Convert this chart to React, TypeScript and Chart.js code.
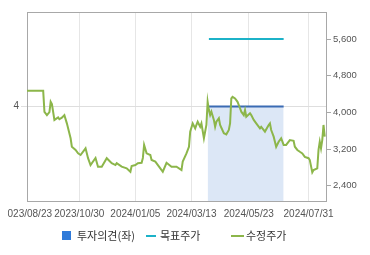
import React, { useEffect, useRef } from "react";
import { Chart, registerables } from "chart.js";

Chart.register(...registerables);

// x values are trading-day indices counted from 2023/08/23
const tickDays = [0, 42, 87, 132, 178, 226];
const tickLabels = ["2023/08/23", "2023/10/30", "2024/01/05", "2024/03/13", "2024/05/23", "2024/07/31"];

const priceDays = [
  0, 13, 14, 16, 18, 19, 20, 22, 25, 26, 28, 30, 32, 35, 36, 39, 41, 43, 47, 49,
  51, 55, 57, 60, 64, 68, 71, 72, 76, 80, 83, 84, 87, 89, 92, 93, 94, 96, 99, 100,
  103, 107, 109, 112, 116, 120, 124, 125, 128, 130, 131, 133, 135, 136, 137, 139, 140, 142, 144, 145,
  146, 147, 148, 150, 151, 152, 154, 155, 158, 160, 162, 163, 164, 165, 167, 169, 171, 172, 174, 175,
  176, 179, 180, 182, 184, 187, 188, 191, 194, 195, 196, 198, 199, 200, 202, 204, 206, 208, 211, 214,
  215, 217, 219, 221, 223, 226, 227, 229, 230, 233, 234, 235, 236, 237, 238, 239,
];
const priceValues = [
  4470, 4470, 4010, 3940, 4005, 4230, 4180, 3835, 3890, 3850, 3885, 3940, 3760, 3435, 3250, 3180, 3105, 3070, 3215, 3000,
  2850, 3005, 2815, 2815, 3000, 2890, 2850, 2890, 2815, 2780, 2705, 2830, 2850, 2890, 2900, 3005, 3290, 3105, 3070, 2960,
  2925, 2780, 2705, 2900, 2815, 2815, 2740, 2925, 3105, 3250, 3580, 3760, 3650, 3725, 3795, 3685, 3760, 3435, 3725, 4230,
  4050, 3940, 4015, 3835, 3685, 3795, 3870, 3725, 3545, 3520, 3615, 3760, 4305, 4340, 4305, 4230, 4090, 4015, 3940, 4050,
  3905, 3980, 3940, 3835, 3760, 3650, 3685, 3580, 3725, 3760, 3615, 3470, 3360, 3250, 3360, 3435, 3290, 3290, 3395, 3380,
  3250, 3180, 3140, 3105, 3030, 3000, 2960, 2690, 2740, 2780, 3180, 3360, 3215, 3395, 3725, 3470,
];

const opinionDays = [145, 206];
const opinionValues = [4, 4];
const targetDays = [146, 206];
const targetValues = [5600, 5600];

const rightTicks = [2400, 3200, 4000, 4800, 5600];
const leftTicks = [4];
const legendLabels = ["투자의견(좌)", "목표주가", "수정주가"];

const toPoints = (xs: number[], ys: number[]) => xs.map((x, i) => ({ x, y: ys[i] }));

const frameTop = {
  id: "frameTop",
  beforeDatasetsDraw(chart: any) {
    const { ctx, chartArea } = chart;
    ctx.save();
    ctx.strokeStyle = "#a8a8a8";
    ctx.lineWidth = 1;
    ctx.beginPath();
    ctx.moveTo(chartArea.left, chartArea.top + 0.5);
    ctx.lineTo(chartArea.right, chartArea.top + 0.5);
    ctx.stroke();
    ctx.restore();
  },
};

export default function App() {
  const ref = useRef<HTMLCanvasElement | null>(null);

  useEffect(() => {
    if (!ref.current) return;
    const tickFont = { family: "'Liberation Sans', Arial, sans-serif", size: 10 };
    const chart = new Chart(ref.current, {
      type: "line",
      data: {
        datasets: [
          {
            label: legendLabels[2],
            data: toPoints(priceDays, priceValues),
            yAxisID: "y",
            borderColor: "#8cb64a",
            borderWidth: 2,
            pointRadius: 0,
            tension: 0,
            fill: false,
          },
          {
            label: legendLabels[1],
            data: toPoints(targetDays, targetValues),
            yAxisID: "y",
            borderColor: "#1cb2c8",
            borderWidth: 2,
            pointRadius: 0,
            fill: false,
          },
          {
            label: legendLabels[0],
            data: toPoints(opinionDays, opinionValues),
            yAxisID: "y1",
            borderColor: "#3a6bb3",
            borderWidth: 2,
            pointRadius: 0,
            fill: "origin",
            backgroundColor: "#dce7f6",
          },
        ],
      },
      options: {
        animation: false,
        responsive: false,
        events: [],
        layout: { padding: { top: 12, left: 0, right: 0, bottom: 0 } },
        plugins: { legend: { display: false }, tooltip: { enabled: false } },
        scales: {
          x: {
            type: "linear",
            position: "bottom",
            min: 0,
            max: 240,
            afterBuildTicks: (s: any) => {
              s.ticks = tickDays.map((v) => ({ value: v }));
            },
            afterFit: (s: any) => {
              s.height = 54;
              s.paddingLeft = 0;
              s.paddingRight = 0;
            },
            ticks: {
              autoSkip: false,
              maxRotation: 0,
              padding: 7,
              color: "#555",
              font: tickFont,
              callback: (v: any) => {
                const i = tickDays.indexOf(Number(v));
                return i >= 0 ? tickLabels[i] : "";
              },
            },
            grid: { color: "#e6e6e6", drawTicks: false },
            border: { color: "#a8a8a8" },
          },
          y1: {
            position: "left",
            min: 0,
            max: 8,
            afterBuildTicks: (s: any) => {
              s.ticks = leftTicks.map((v) => ({ value: v }));
            },
            afterFit: (s: any) => {
              s.width = 27;
              s.paddingTop = 0;
              s.paddingBottom = 0;
            },
            ticks: { color: "#555", font: tickFont, padding: 2 },
            grid: { color: "#dedede", tickLength: 6 },
            border: { color: "#a8a8a8" },
          },
          y: {
            position: "right",
            min: 2066,
            max: 6190,
            afterBuildTicks: (s: any) => {
              s.ticks = rightTicks.map((v) => ({ value: v }));
            },
            afterFit: (s: any) => {
              s.width = 44;
              s.paddingTop = 0;
              s.paddingBottom = 0;
            },
            ticks: {
              color: "#555",
              font: { family: "'Liberation Sans', Arial, sans-serif", size: 9.5 },
              padding: 2,
              callback: (v: any) => Number(v).toLocaleString("en-US"),
            },
            grid: { drawOnChartArea: false, tickLength: 5, color: "#a8a8a8" },
            border: { color: "#a8a8a8" },
          },
        },
      },
      plugins: [frameTop],
    });
    return () => chart.destroy();
  }, []);

  const legendFont: React.CSSProperties = {
    position: "absolute",
    top: 229,
    height: 13,
    lineHeight: "13px",
    fontSize: 11,
    fontFamily: "'Noto Sans CJK KR', sans-serif",
    color: "#333",
    whiteSpace: "nowrap",
  };

  return (
    <div style={{ position: "fixed", left: 0, top: 0, width: 370, height: 255, overflow: "hidden", background: "#fff" }}>
      <div style={{ position: "absolute", left: 8, top: 0, width: 362, height: 255, overflow: "hidden" }}>
        <canvas ref={ref} width={370} height={255} style={{ position: "absolute", left: -8, top: 0, width: 370, height: 255 }} />
      </div>
      <div style={{ position: "absolute", left: 62, top: 231, width: 9, height: 9, background: "#2f7ad9" }} />
      <div style={{ ...legendFont, left: 77 }}>{legendLabels[0]}</div>
      <div style={{ position: "absolute", left: 146, top: 235, width: 10, height: 2, background: "#1cb2c8" }} />
      <div style={{ ...legendFont, left: 160 }}>{legendLabels[1]}</div>
      <div style={{ position: "absolute", left: 231, top: 235, width: 13, height: 2, background: "#8cb64a" }} />
      <div style={{ ...legendFont, left: 246 }}>{legendLabels[2]}</div>
    </div>
  );
}
